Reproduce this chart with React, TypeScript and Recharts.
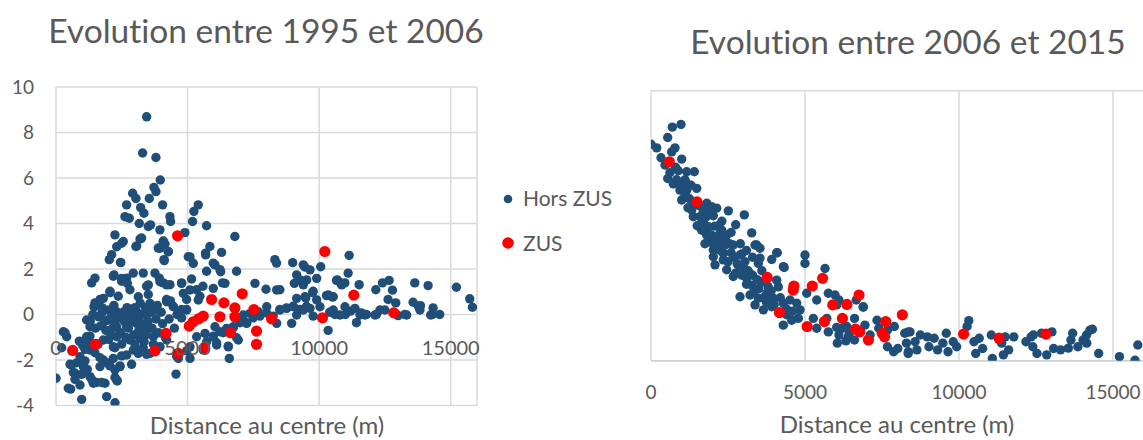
import React from 'react';
import { ScatterChart, Scatter, XAxis, YAxis, CartesianGrid } from 'recharts';

const BLUE = '#1F4E79';
const RED = '#FF0000';
const TEXT = '#595959';
const GRID = '#D9D9D9';
const FONT = 'Lato, "Open Sans", sans-serif';

const leftTitle = 'Evolution entre 1995 et 2006';
const rightTitle = 'Evolution entre 2006 et 2015';
const axisTitle = 'Distance au centre (m)';
const seriesNames = ['Hors ZUS', 'ZUS'];

const xDomain: [number, number] = [0, 16000];
const leftXTicks = [0, 5000, 10000, 15000, 16000];
const rightXTicks = [0, 5000, 10000, 15000];
const leftYTicks = [-4, -2, 0, 2, 4, 6, 8, 10];
const rightYTicks = [0, 1, 2, 3, 4, 5, 6];

// Evolution 1995-2006, hors ZUS : [distance (m), valeur]
const leftHors: [number, number][] = [
  [3444, 8.69], [3292, 7.1], [3798, 6.9], [3963, 5.91], [3722, 5.59], [3798, 5.4], [2912, 5.33], [3038, 5.1],
  [3545, 5.1], [4051, 4.82], [2684, 4.82], [3218, 4.7], [3342, 4.45], [2620, 4.3], [2785, 4.23], [4330, 4.3],
  [4355, 4.09], [3164, 4.0], [3507, 3.87], [3595, 3.94], [3950, 3.72], [5406, 4.82], [5241, 4.53], [5190, 4.09],
  [5722, 3.9], [4899, 3.6], [6798, 3.43], [2240, 3.5], [2557, 3.21], [3192, 3.32], [4078, 3.23], [3253, 3.36],
  [3038, 2.99], [4076, 3.21], [3887, 2.92], [4266, 2.77], [4102, 2.41], [2114, 2.63], [2026, 2.41], [2456, 2.29],
  [2496, 3.13], [2306, 2.98], [2458, 2.28], [3066, 3.01], [3952, 2.91], [4142, 3.1], [4268, 2.76], [4116, 2.37],
  [5027, 2.54], [5217, 2.25], [5688, 2.62], [5849, 2.99], [5684, 2.7], [6292, 2.73], [5089, 2.53], [5976, 2.26],
  [6229, 1.97], [5722, 1.9], [6862, 1.9], [6042, 2.18], [6259, 1.88],
  [3316, 1.82], [3760, 1.82], [2937, 1.82], [2178, 1.68], [2494, 1.46], [2684, 1.6], [3925, 1.6], [4076, 1.39],
  [4330, 1.31], [4773, 1.39], [5152, 1.56], [6329, 1.39], [5583, 1.24], [5342, 1.09], [1481, 1.6], [1355, 1.39],
  [2051, 1.02], [1671, 0.66], [1481, 0.51], [2367, 0.8], [2810, 1.09], [3443, 1.24], [3507, 0.88], [4203, 0.66],
  [4456, 0.36], [4773, 0.22], [4963, 0.22], [5469, 0.8], [4963, 0.66], [2204, 1.74], [2496, 1.59], [2711, 1.37],
  [3508, 1.3], [3952, 1.44], [4205, 1.3], [2052, 0.96], [1799, 0.71], [1545, 0.49], [1444, 0.34], [1736, 0.05],
  [2306, 0.12], [3066, 0.12], [3762, 0.2], [4205, 0.56], [4458, 0.34], [3572, 0.49], [3128, 0.78], [4838, 0.93],
  [4775, 1.37], [5092, 1.08], [5407, 0.64], [4965, 0.2], [6422, 1.37], [5978, 1.15],
  [1165, -0.24], [1292, -0.54], [1988, -0.24], [2686, -0.02], [3446, -0.02], [2306, -0.54], [2686, -0.54],
  [3066, -0.39], [3446, -0.68], [2306, -0.98], [2812, -1.12], [3192, -1.05], [3698, -0.98], [2052, -0.83],
  [1799, -1.12], [2179, -1.42], [2686, -1.78], [3128, -1.71], [3572, -1.71], [279, -0.76], [406, -0.98],
  [976, -1.2], [1165, -0.98], [1292, -1.56], [912, -1.85], [596, -2.22], [722, -2.58], [1039, -2.29],
  [1672, -2.29], [1799, -2.0], [2179, -1.93], [2432, -2.29], [2242, -2.44], [2306, -2.88], [0, -2.8],
  [467, -3.24], [912, -3.1], [1292, -2.73], [1418, -3.02], [1862, -3.02], [976, -3.73], [1926, -3.61],
  [2242, -3.88], [4560, -2.62], [4648, -1.93], [5092, -1.93], [5597, -1.56], [5726, -1.2], [5092, -1.42],
  [5346, -0.98], [5662, -0.83], [2938, -1.56], [3952, -1.42], [4205, -1.12], [215, -1.46], [342, -0.8],
  [532, -2.19], [658, -2.55], [557, -3.28], [722, -2.85], [975, -2.63], [785, -2.12], [1101, -2.04],
  [1190, -2.41], [1355, -2.85], [1545, -2.99], [1734, -2.99], [1924, -2.12], [2051, -2.26], [2241, -2.77],
  [2329, -2.92], [1671, -1.9], [1481, -1.68], [1101, -1.53], [1291, -0.95], [886, -1.17], [1013, -1.36],
  [1481, 0.36], [2494, -1.82], [2873, -2.19], [3063, -1.53], [3316, -1.46], [3443, -1.75], [2241, -1.46],
  [2430, -2.26],
  [1300, -0.3], [1500, -0.6], [1600, -0.1], [1700, -0.5], [1850, -0.3], [1900, -0.7], [2000, 0.2], [2100, -0.1],
  [2150, -0.6], [2250, -0.3], [2400, -0.1], [2450, -0.8], [2550, 0.1], [2600, -0.3], [2650, -1.0], [2750, -0.6],
  [2850, 0.0], [2900, -0.3], [2950, -0.9], [3000, 0.3], [3100, -0.2], [3150, -0.7], [3250, 0.0], [3300, -0.4],
  [3350, -1.2], [3400, 0.3], [3500, -0.3], [3600, 0.1], [3650, -0.6], [3700, -1.3], [3800, -0.2], [3850, 0.4],
  [3900, -0.8], [4000, 0.1], [4050, -0.4], [4150, -1.0], [4300, -0.2], [4350, 0.6], [4500, -0.6], [4600, 0.0],
  [1400, 0.0], [1750, 0.3], [2200, 0.4], [2700, 0.3], [3200, 0.5], [2000, -1.1], [2500, -1.3], [3000, -1.3],
  [3400, -0.9], [1600, -1.3], [1200, -1.2],
  [6102, -1.24], [5976, -0.95], [6355, -0.8], [6735, -0.58], [6988, -0.36], [7241, -0.36], [7494, -0.15],
  [7748, -0.07], [8001, 0.07], [8254, -0.07], [8508, 0.22], [8761, 0.29], [9014, 0.36], [9267, 0.22],
  [9520, 0.36], [9773, -0.07], [6862, -1.02], [6586, -1.93], [6545, -1.39], [4963, -1.6], [4583, -1.82],
  [4773, -0.15], [8007, 0.34], [7689, 0.12], [7372, 0.05], [7118, -0.02], [6992, -0.32], [7245, -0.39],
  [6738, -0.54], [6485, -0.61], [6232, -0.76], [6042, -0.54], [5978, -0.98], [6928, -1.12], [6106, -1.34],
  [6548, -1.42], [8512, 0.2], [8766, 0.27], [9020, 0.34], [8956, -0.39], [9146, -0.02], [9398, 0.2],
  [9652, 0.27], [10032, 0.34], [10537, 0.2], [10792, -0.02], [10343, -0.7], [8387, -0.39],
  [7562, 1.37], [7980, 1.11], [8387, 1.08], [8318, 2.41], [8381, 2.26], [8508, 1.09], [8995, 2.28], [9398, 2.18],
  [9652, 1.96], [10059, 2.1], [9457, 2.09], [9146, 1.74], [9272, 1.52], [9526, 1.52], [9907, 1.59], [9057, 1.37],
  [9398, 1.3], [10689, 1.52], [9755, 0.96], [9907, 0.64], [9462, 0.78], [9146, 0.71], [10347, 0.86],
  [10537, 0.78], [9773, 1.02], [9495, 0.73], [10280, 0.83], [10508, 0.77],
  [11141, 2.6], [11103, 1.82], [10660, 1.5], [10812, 1.39], [10976, 1.39], [11521, 1.31], [12154, 1.09],
  [12407, 1.39], [12660, 1.5], [12787, 1.07], [12622, 0.66], [12913, 0.51], [13635, 1.39], [14141, 1.27],
  [13572, 0.54], [13850, 0.39], [14331, 0.29], [14306, 0.0], [14584, 0.0], [15217, 1.2], [15724, 0.69],
  [15825, 0.32], [13255, 0.0], [12179, 0.0], [11799, 0.0], [11419, -0.36], [11609, 0.07], [10856, 1.3],
  [13768, 0.37], [12312, 0.2], [12122, -0.02], [13326, -0.02], [13832, 0.2], [14237, -0.02], [10982, 0.34],
  [11362, 0.27], [11742, -0.02], [11552, -0.02], [10400, 0.1], [10600, 0.0], [11000, 0.0], [11200, 0.15],
  [12500, 0.2], [12900, 0.05], [13000, -0.05],
];

// Evolution 1995-2006, ZUS
const leftZus: [number, number][] = [
  [633, -1.58], [1507, -1.31], [3760, -1.6], [4646, -1.71], [4178, -0.83], [4621, 3.46], [5634, -1.46],
  [5064, -0.51], [5216, -0.32], [5418, -0.19], [5596, -0.07], [5912, 0.66], [6229, -0.1], [6381, 0.51],
  [6634, -0.8], [6798, 0.29], [6798, -0.1], [7077, 0.91], [7520, 0.22], [7621, -0.73], [7621, -1.31],
  [8191, -0.19], [10217, 2.77], [10128, -0.15], [11318, 0.85], [12837, 0.07],
];

// Evolution 2006-2015, hors ZUS
const rightHors: [number, number][] = [
  [974, 5.25], [692, 5.19], [542, 4.96], [0, 4.81], [185, 4.73], [779, 4.73], [672, 4.64], [325, 4.51],
  [997, 4.48], [455, 4.35], [617, 4.18], [886, 4.22], [1159, 4.2], [1406, 4.2], [542, 4.05], [834, 4.02],
  [1104, 4.02], [724, 3.93], [942, 3.79], [1159, 3.79], [1484, 3.83], [997, 3.57], [1104, 3.68], [1809, 3.5],
  [1971, 3.42], [2133, 3.39], [2510, 3.33], [1321, 3.35], [1698, 3.33], [1374, 3.2], [1591, 3.2], [2023, 3.22],
  [3030, 3.24], [2750, 3.02], [1646, 3.05], [1861, 2.98], [2078, 2.99], [1646, 2.9], [1809, 2.79], [2240, 2.83],
  [2458, 2.79], [3270, 2.84], [1916, 2.64], [2185, 2.64], [2403, 2.57], [2672, 2.57], [3377, 2.57], [3539, 2.5],
  [4081, 2.4], [2023, 2.46], [2348, 2.39], [2945, 2.37], [3539, 2.28], [3919, 2.25],
  [3432, 2.57], [4296, 2.09], [5000, 2.35], [5000, 2.16], [5650, 2.05], [2023, 2.31], [2348, 2.24], [2890, 2.35],
  [2078, 2.13], [2458, 2.02], [2997, 2.09], [3484, 2.16], [2672, 1.87], [3107, 1.83], [3270, 1.68], [4081, 1.79],
  [4133, 1.64], [2890, 1.42], [3214, 1.46], [3484, 1.39], [3757, 1.5], [3970, 1.39], [3377, 1.24], [3648, 1.13],
  [3919, 1.2], [4296, 1.28], [4513, 1.35], [4731, 1.28], [5056, 1.5], [4838, 1.13], [4406, 1.02], [4568, 0.9],
  [4296, 0.79], [4784, 0.94], [5270, 0.94], [5380, 1.35], [5758, 1.5], [5975, 1.46], [6029, 1.24], [5380, 0.72],
  [5758, 0.64], [6029, 0.74], [6354, 0.76], [6408, 0.53], [6050, 0.39], [4325, 2.07], [4100, 2.4],
  [6102, 1.35], [6664, 1.35], [6889, 1.19], [6608, 0.94], [5708, 0.94], [6214, 0.72], [6102, 0.57], [6439, 0.61],
  [6608, 0.46], [6327, 0.44], [6945, 0.79], [7114, 0.57], [7338, 0.9], [7395, 0.72], [7676, 0.68], [7901, 0.76],
  [7676, 0.31], [7878, 0.2], [8013, 0.27], [8238, 0.61], [8407, 0.64], [8294, 0.39], [8350, 0.16], [8575, 0.42],
  [8632, 0.24], [8744, 0.57], [8969, 0.53], [9025, 0.31], [9194, 0.5], [9306, 0.24], [9475, 0.39], [9587, 0.61],
  [9643, 0.2], [9812, 0.42], [9924, 0.31], [10318, 0.89], [10262, 0.76], [10487, 0.42], [10543, 0.16],
  [10656, 0.5], [10768, 0.27], [11049, 0.57], [11083, 0.05], [11386, 0.39], [11442, 0.13], [11498, 0.53],
  [11779, 0.53], [11611, 0.24], [12173, 0.42], [12342, 0.53], [12398, 0.31], [12533, 0.16], [12679, 0.61],
  [12848, 0.13], [13017, 0.64], [13072, 0.27], [13297, 0.24], [13634, 0.46], [13690, 0.61], [13859, 0.31],
  [14028, 0.46], [14141, 0.57], [14253, 0.68], [14332, 0.7], [14534, 0.16], [15209, 0.09], [15715, 0.01],
  [15805, 0.35], [13550, 0.28], [12413, 0.57], [14147, 0.39], [8354, 0.2], [8354, 0.64], [6893, 1.2],
  [1250, 3.6], [1400, 3.5], [1550, 3.45], [1300, 3.9], [1200, 3.4], [1700, 3.1], [1800, 3.2], [1500, 3.0],
  [1750, 2.6], [1950, 2.8], [2100, 2.75], [2200, 3.0], [2300, 2.9], [2050, 2.55], [2250, 2.45], [2400, 2.7],
  [2550, 2.6], [2600, 2.4], [2500, 2.2], [2700, 2.3], [2800, 2.15], [2750, 1.95], [2900, 2.1], [2950, 1.9],
  [3050, 2.2], [3150, 2.0], [3100, 1.7], [3200, 1.95], [3300, 1.9], [3350, 1.55], [3450, 1.8], [3500, 1.6],
  [3600, 1.75], [3650, 1.4], [3750, 1.3], [3800, 1.65], [3850, 1.45], [3900, 1.55], [4000, 1.25], [4200, 1.4],
  [4400, 1.15], [4600, 1.1], [2900, 2.6], [3100, 2.45], [3600, 2.0], [3300, 2.3], [2600, 2.85], [2300, 3.1],
  [1900, 3.3], [1150, 3.95], [800, 4.3], [900, 3.95], [1050, 3.85],
];

// Evolution 2006-2015, ZUS
const rightZus: [number, number][] = [
  [594, 4.42], [1494, 3.53], [3773, 1.85], [4640, 1.66], [4617, 1.57], [5237, 1.66], [5572, 1.83], [6754, 1.46],
  [4169, 1.07], [5900, 1.24], [6361, 1.25], [5069, 0.76], [5630, 0.87], [6215, 0.94], [6640, 0.7], [6776, 0.64],
  [7059, 0.46], [7508, 0.61], [7585, 0.53], [7621, 0.87], [8160, 1.02], [10150, 0.59], [11296, 0.5], [12826, 0.59],
];

const toPoints = (arr: [number, number][]) => arr.map(([x, y]) => ({ x, y }));

const BlueDot = (p: any) => <circle cx={p.cx} cy={p.cy} r={4.7} fill={BLUE} />;
const RedDot = (p: any) => <circle cx={p.cx} cy={p.cy} r={5.6} fill={RED} />;

const noLig = { fontVariantLigatures: 'none', fontFeatureSettings: '"liga" 0' } as any;

const LeftXTick = (props: any) => {
  const { x, y, payload } = props;
  if (payload.value === 16000) return null;
  return (
    <text x={x} y={y - 67} textAnchor="middle" dominantBaseline="central" fill={TEXT} fontSize={20} fontFamily={FONT}>
      {payload.value}
    </text>
  );
};

const RightXTick = (props: any) => {
  const { x, y, payload } = props;
  return (
    <text x={x} y={y + 23} textAnchor="middle" dominantBaseline="central" fill={TEXT} fontSize={19} fontFamily={FONT}>
      {payload.value}
    </text>
  );
};

export default function App() {
  return (
    <div style={{ position: 'absolute', left: 0, top: 0, width: 1143, height: 440, overflow: 'hidden', background: '#fff' }}>
      <div style={{ position: 'absolute', left: 0, top: 0 }}>
        <ScatterChart width={490} height={440} margin={{ top: 87, right: 13, bottom: 4.5, left: 0 }}>
          <CartesianGrid stroke={GRID} strokeWidth={1.5} />
          <XAxis type="number" dataKey="x" domain={xDomain} ticks={leftXTicks} interval={0} allowDataOverflow
            height={30} axisLine={false} tickLine={false} tick={LeftXTick} />
          <YAxis type="number" dataKey="y" domain={[-4, 10]} ticks={leftYTicks} interval={0} allowDataOverflow
            width={56} axisLine={false} tickLine={false} tickMargin={16}
            tick={{ fill: TEXT, fontSize: 19, fontFamily: FONT }} />
          <Scatter name={seriesNames[0]} data={toPoints(leftHors)} shape={BlueDot} isAnimationActive={false} />
          <Scatter name={seriesNames[1]} data={toPoints(leftZus)} shape={RedDot} isAnimationActive={false} />
        </ScatterChart>
      </div>
      <div style={{ position: 'absolute', left: 600, top: 0 }}>
        <ScatterChart width={560} height={440} margin={{ top: 90.7, right: 16.2, bottom: 49.3, left: 51 }}>
          <CartesianGrid stroke={GRID} strokeWidth={1.5} />
          <XAxis type="number" dataKey="x" domain={xDomain} ticks={rightXTicks} interval={0} allowDataOverflow
            height={30} axisLine={{ stroke: '#D0D0D0', strokeWidth: 1.5 }} tickLine={false} tick={RightXTick} />
          <YAxis type="number" dataKey="y" domain={[0, 6]} ticks={rightYTicks} interval={0} allowDataOverflow
            width={0} axisLine={false} tickLine={false} tick={false} />
          <Scatter name={seriesNames[0]} data={toPoints(rightHors)} shape={BlueDot} isAnimationActive={false} />
          <Scatter name={seriesNames[1]} data={toPoints(rightZus)} shape={RedDot} isAnimationActive={false} />
        </ScatterChart>
      </div>
      <svg width={1143} height={440} style={{ position: 'absolute', left: 0, top: 0, pointerEvents: 'none', ...noLig }}>
        <text x={266} y={43} textAnchor="middle" fill={TEXT} fontSize={33.5} fontFamily={FONT} style={noLig}>{leftTitle}</text>
        <text x={908} y={54} textAnchor="middle" fill={TEXT} fontSize={33.5} fontFamily={FONT} style={noLig}>{rightTitle}</text>
        <text x={267} y={434} textAnchor="middle" fill={TEXT} fontSize={24} fontFamily={FONT}>{axisTitle}</text>
        <text x={897} y={433} textAnchor="middle" fill={TEXT} fontSize={24} fontFamily={FONT}>{axisTitle}</text>
        <circle cx={508} cy={199} r={4.3} fill={BLUE} />
        <text x={523} y={206} fill={TEXT} fontSize={21} fontFamily={FONT}>{seriesNames[0]}</text>
        <circle cx={508} cy={243} r={5.8} fill={RED} />
        <text x={523} y={250.5} fill={TEXT} fontSize={21} fontFamily={FONT}>{seriesNames[1]}</text>
      </svg>
    </div>
  );
}
